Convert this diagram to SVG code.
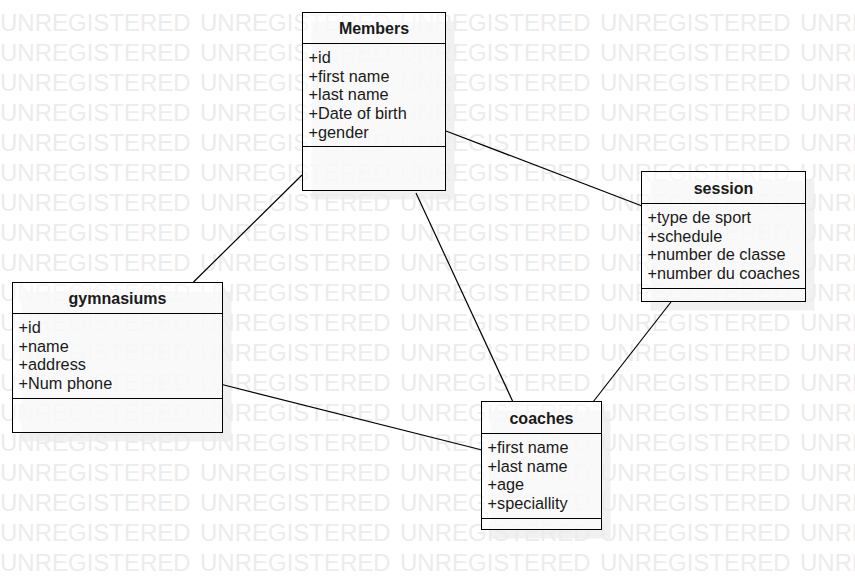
<svg xmlns="http://www.w3.org/2000/svg" xmlns:xlink="http://www.w3.org/1999/xlink" width="855" height="580" viewBox="0 0 855 580">
<style>
.wm{font-family:"Liberation Sans",Arial,sans-serif;font-size:24px;fill:#ececec}
.shadow{fill:#f1f1f1;stroke:none}
.box{fill:#fff;fill-opacity:0.6;stroke:#000;stroke-width:1}
.sep{stroke:#000;stroke-width:1}
.title{font-family:"Liberation Sans",Arial,sans-serif;font-size:16px;font-weight:bold;fill:#1a1a1a;text-anchor:middle}
.attr{font-family:"Liberation Sans",Arial,sans-serif;font-size:16.3px;fill:#1a1a1a}
.conn line{stroke:#000;stroke-width:1.2}
</style>
<defs>
<g id="wmrow">
<text class="wm" x="0" y="0">UNREGISTERED</text>
<text class="wm" x="200" y="0">UNREGISTERED</text>
<text class="wm" x="400" y="0">UNREGISTERED</text>
<text class="wm" x="600" y="0">UNREGISTERED</text>
<text class="wm" x="800" y="0">UNREGISTERED</text>
</g>
</defs>
<rect x="0" y="0" width="855" height="580" fill="#fff"/>
<g id="shadows">
<rect class="shadow" x="311.5" y="21.5" width="143" height="178"/>
<rect class="shadow" x="650.5" y="180.5" width="164" height="130"/>
<rect class="shadow" x="21.5" y="291.5" width="210" height="150"/>
<rect class="shadow" x="490.5" y="410.5" width="120" height="128"/>
</g>
<g id="watermark">
<use xlink:href="#wmrow" y="31"/>
<use xlink:href="#wmrow" y="61"/>
<use xlink:href="#wmrow" y="91"/>
<use xlink:href="#wmrow" y="121"/>
<use xlink:href="#wmrow" y="151"/>
<use xlink:href="#wmrow" y="181"/>
<use xlink:href="#wmrow" y="211"/>
<use xlink:href="#wmrow" y="241"/>
<use xlink:href="#wmrow" y="271"/>
<use xlink:href="#wmrow" y="301"/>
<use xlink:href="#wmrow" y="331"/>
<use xlink:href="#wmrow" y="361"/>
<use xlink:href="#wmrow" y="391"/>
<use xlink:href="#wmrow" y="421"/>
<use xlink:href="#wmrow" y="451"/>
<use xlink:href="#wmrow" y="481"/>
<use xlink:href="#wmrow" y="511"/>
<use xlink:href="#wmrow" y="541"/>
<use xlink:href="#wmrow" y="571"/>
</g>
<g id="connectors" class="conn">
<line x1="302" y1="175" x2="193.5" y2="282"/>
<line x1="446" y1="131" x2="642" y2="206"/>
<line x1="416" y1="193" x2="513" y2="402"/>
<line x1="222" y1="384.5" x2="482" y2="450"/>
<line x1="671" y1="302" x2="593" y2="402"/>
</g>
<g id="members">
<rect class="box" x="302.5" y="12.5" width="143" height="178"/>
<line class="sep" x1="302.5" y1="43.5" x2="445.5" y2="43.5"/>
<line class="sep" x1="302.5" y1="146.5" x2="445.5" y2="146.5"/>
<text class="title" x="374" y="34">Members</text>
<text class="attr" x="308.5" y="63">+id</text>
<text class="attr" x="308.5" y="81.7">+first name</text>
<text class="attr" x="308.5" y="100.4">+last name</text>
<text class="attr" x="308.5" y="119.1">+Date of birth</text>
<text class="attr" x="308.5" y="137.8">+gender</text>
</g>
<g id="session">
<rect class="box" x="641.5" y="171.5" width="164" height="130"/>
<line class="sep" x1="641.5" y1="203.5" x2="805.5" y2="203.5"/>
<line class="sep" x1="641.5" y1="288.5" x2="805.5" y2="288.5"/>
<text class="title" x="723.5" y="194">session</text>
<text class="attr" x="647.5" y="223">+type de sport</text>
<text class="attr" x="647.5" y="241.7">+schedule</text>
<text class="attr" x="647.5" y="260.4">+number de classe</text>
<text class="attr" x="647.5" y="279.1">+number du coaches</text>
</g>
<g id="gymnasiums">
<rect class="box" x="12.5" y="282.5" width="210" height="150"/>
<line class="sep" x1="12.5" y1="313.5" x2="222.5" y2="313.5"/>
<line class="sep" x1="12.5" y1="398.5" x2="222.5" y2="398.5"/>
<text class="title" x="117.5" y="304">gymnasiums</text>
<text class="attr" x="18.5" y="333">+id</text>
<text class="attr" x="18.5" y="351.7">+name</text>
<text class="attr" x="18.5" y="370.4">+address</text>
<text class="attr" x="18.5" y="389.1">+Num phone</text>
</g>
<g id="coaches">
<rect class="box" x="481.5" y="401.5" width="120" height="128"/>
<line class="sep" x1="481.5" y1="433.5" x2="601.5" y2="433.5"/>
<line class="sep" x1="481.5" y1="518.5" x2="601.5" y2="518.5"/>
<text class="title" x="541.5" y="424">coaches</text>
<text class="attr" x="487.5" y="453">+first name</text>
<text class="attr" x="487.5" y="471.7">+last name</text>
<text class="attr" x="487.5" y="490.4">+age</text>
<text class="attr" x="487.5" y="509.1">+speciallity</text>
</g>
</svg>
